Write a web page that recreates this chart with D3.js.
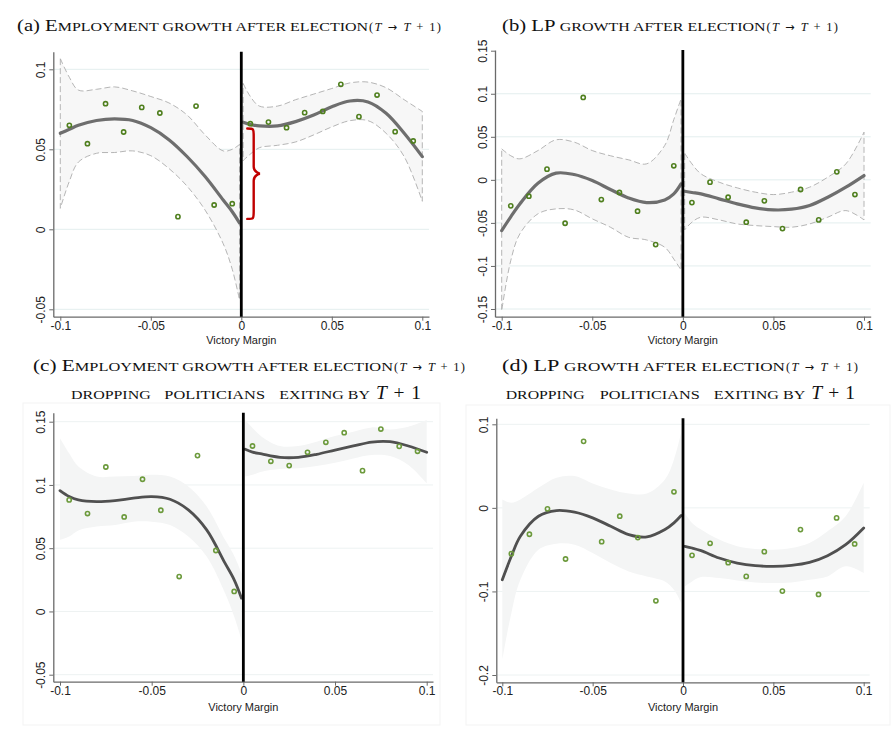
<!DOCTYPE html>
<html><head><meta charset="utf-8">
<script src="https://cdn.jsdelivr.net/npm/d3@7"></script>
<style>body{margin:0;background:#fff} svg{display:block}</style>
</head><body>
<svg id="chart" width="896" height="732"></svg>
<script>
// ---------- shared data ----------
const binsLeft  = [-0.095,-0.085,-0.075,-0.065,-0.055,-0.045,-0.035,-0.025,-0.015,-0.005];
const binsRight = [0.005,0.015,0.025,0.035,0.045,0.055,0.065,0.075,0.085,0.095];
const gridLeft  = [-0.1,-0.095,-0.09,-0.08,-0.07,-0.06,-0.05,-0.04,-0.03,-0.02,-0.01,-0.005,-0.001];
const gridRight = [0.001,0.005,0.01,0.02,0.03,0.04,0.05,0.06,0.07,0.08,0.09,0.1];
const xTicks = [-0.1,-0.05,0,0.05,0.1];
const xTickLabels = ["-0.1","-0.05","0","0.05","0.1"];
const xAxisTitle = "Victory Margin";

// ---------- panel (a) ----------
const ptsA_left  = [0.065,0.0535,0.0785,0.0608,0.0762,0.0727,0.0079,0.077,0.0152,0.016];
const ptsA_right = [0.066,0.067,0.0635,0.0729,0.0737,0.0906,0.0704,0.0839,0.061,0.0552];
const fitA_left  = [0.060,0.0625,0.065,0.068,0.069,0.068,0.0635,0.056,0.0455,0.033,0.0183,0.011,0.004];
const hiA_left   = [0.1067,0.095,0.087,0.0875,0.089,0.0865,0.083,0.079,0.0715,0.059,0.049,0.050,0.053];
const loA_left   = [0.0131,0.030,0.042,0.0475,0.048,0.049,0.046,0.038,0.027,0.012,-0.009,-0.025,-0.044];
const fitA_right = [0.0669,0.0655,0.0646,0.0646,0.0673,0.0714,0.0766,0.0802,0.0796,0.0725,0.060,0.0454];
const hiA_right  = [0.0912,0.083,0.077,0.077,0.081,0.0845,0.088,0.0915,0.092,0.0885,0.081,0.0737];
const loA_right  = [0.0429,0.047,0.051,0.0525,0.0546,0.059,0.064,0.0679,0.0679,0.060,0.0454,0.0175];
const yTicksA = [-0.05,0,0.05,0.1];
const yLabelsA = ["-0.05","0","0.05","0.1"];
const braceX = [0.0033,0.0104];
const braceY = [0.0065,0.063];

// ---------- panel (b) ----------
const ptsB_left  = [-0.0302,-0.019,0.0124,-0.0504,0.0957,-0.0229,-0.0147,-0.0364,-0.0752,0.0163];
const ptsB_right = [-0.0264,-0.0027,-0.0202,-0.0492,-0.0244,-0.0566,-0.0112,-0.0465,0.0093,-0.0171];
const fitB_left  = [-0.0589,-0.043,-0.028,-0.004,0.0078,0.0062,-0.0008,-0.0112,-0.021,-0.0264,-0.0233,-0.0163,-0.0047];
const hiB_left   = [0.036,0.028,0.0244,0.034,0.0465,0.0438,0.034,0.028,0.0233,0.0186,0.040,0.070,0.094];
const loB_left   = [-0.152,-0.0938,-0.0628,-0.0395,-0.0337,-0.0349,-0.0453,-0.055,-0.0667,-0.0698,-0.0783,-0.092,-0.1047];
const fitB_right = [-0.0132,-0.0147,-0.0163,-0.0221,-0.0279,-0.0326,-0.0349,-0.0341,-0.0298,-0.0202,-0.0085,0.005];
const hiB_right  = [0.031,0.0186,0.007,-0.0027,-0.0093,-0.0143,-0.0171,-0.0143,-0.0085,0.0031,0.0186,0.0554];
const loB_right  = [-0.0581,-0.0492,-0.0434,-0.0465,-0.0512,-0.0531,-0.0543,-0.055,-0.0512,-0.0434,-0.0357,-0.0465];
const yTicksB = [-0.15,-0.1,-0.05,0,0.05,0.1,0.15];
const yLabelsB = ["-0.15","-0.1","-0.05","0","0.05","0.1","0.15"];

// ---------- panel (c) ----------
const ptsC_left  = [0.0882,0.0774,0.1142,0.0747,0.1045,0.08,0.0276,0.1232,0.0482,0.0158];
const ptsC_right = [0.1308,0.1187,0.1153,0.1258,0.1337,0.1413,0.1113,0.1442,0.1305,0.1266];
const fitC_left  = [0.0955,0.0908,0.0882,0.0868,0.0876,0.0895,0.0908,0.0887,0.0803,0.0645,0.0382,0.025,0.0105];
const hiC_left   = [0.137,0.125,0.1145,0.1066,0.1066,0.107,0.108,0.1066,0.0987,0.0829,0.0566,0.044,0.030];
const loC_left   = [0.0566,0.0592,0.064,0.0671,0.0684,0.071,0.071,0.0684,0.0592,0.0434,0.0145,-0.004,-0.0224];
const fitC_right = [0.1282,0.126,0.1245,0.1218,0.1218,0.1242,0.1276,0.1308,0.1339,0.1342,0.1308,0.1258];
const hiC_right  = [0.1513,0.145,0.1382,0.1308,0.1308,0.1342,0.1387,0.1421,0.1455,0.1439,0.146,0.1513];
const loC_right  = [0.1066,0.108,0.1105,0.1126,0.1132,0.115,0.1176,0.121,0.1237,0.1229,0.1158,0.1013];
const yTicksC = [-0.05,0,0.05,0.1,0.15];
const yLabelsC = ["-0.05","0","0.05","0.1","0.15"];

// ---------- panel (d) ----------
const ptsD_left  = [-0.0548,-0.0316,-0.0012,-0.0612,0.0796,-0.0404,-0.01,-0.0356,-0.1112,0.0192];
const ptsD_right = [-0.0568,-0.0424,-0.0656,-0.082,-0.0524,-0.0996,-0.026,-0.1036,-0.012,-0.0432];
const fitD_left  = [-0.086,-0.058,-0.034,-0.01,-0.0032,-0.0052,-0.012,-0.022,-0.032,-0.0348,-0.026,-0.018,-0.0092];
const hiD_left   = [0.01,0.006,0.01,0.024,0.036,0.038,0.0292,0.022,0.0172,0.0172,0.034,0.058,0.09];
const loD_left   = [-0.182,-0.126,-0.086,-0.05,-0.0428,-0.044,-0.054,-0.066,-0.076,-0.082,-0.088,-0.098,-0.114];
const fitD_right = [-0.046,-0.048,-0.0512,-0.06,-0.066,-0.0692,-0.07,-0.0688,-0.0652,-0.0572,-0.044,-0.024];
const hiD_right  = [-0.006,-0.018,-0.026,-0.038,-0.046,-0.0492,-0.05,-0.048,-0.042,-0.028,-0.01,0.03];
const loD_right  = [-0.094,-0.088,-0.0828,-0.084,-0.0868,-0.0892,-0.09,-0.0892,-0.086,-0.082,-0.07,-0.078];
const yTicksD = [-0.2,-0.1,0,0.1];
const yLabelsD = ["-0.2","-0.1","0","0.1"];

// ---------- title text segments: [text, size, italic] ----------
const titleMainA = [["(a) E",17.5],["MPLOYMENT GROWTH AFTER ELECTION",13.5]];
const titleMainB = [["(b) LP ",17.5],["GROWTH AFTER ELECTION",13.5]];
const titleMainC = [["(c) E",17.5],["MPLOYMENT GROWTH AFTER ELECTION",13.5]];
const titleMainD = [["(d) LP ",17.5],["GROWTH AFTER ELECTION",13.5]];
const titleMath  = [["(",12.5],["T",12.5,1],[" → ",12.5],["T",12.5,1],[" + 1)",12.5]];
const subtitleWords = ["DROPPING","POLITICIANS","EXITING BY"];
const subtitleMath = [["T",19.5,1],[" + 1",19.5]];

const svg = d3.select("#chart");

// ---------- layout ----------
const panels = [
  {px:[60.3,422.3], yv:[0,0.1], yp:[229.3,69.3], L:53.3, B:316.7, T:51.7, R:429,
   style:"ab", yTicks:yTicksA, yLabels:yLabelsA, grid:yTicksA,
   pl:ptsA_left, pr:ptsA_right, fl:fitA_left, hl:hiA_left, ll:loA_left, fr:fitA_right, hr:hiA_right, lr:loA_right,
   main:titleMainA, mainPos:[17,368], mathPos:[369,441], ty:31, xtitleY:344, brace:true},
  {px:[501.7,864], yv:[0.15,-0.15], yp:[50.7,309], L:495, B:316.7, T:50, R:870.7,
   style:"ab", yTicks:yTicksB, yLabels:yLabelsB, grid:[-0.15,-0.1,-0.05,0,0.05,0.1],
   pl:ptsB_left, pr:ptsB_right, fl:fitB_left, hl:hiB_left, ll:loB_left, fr:fitB_right, hr:hiB_right, lr:loB_right,
   main:titleMainB, mainPos:[502,765.5], mathPos:[766.5,838], ty:31, xtitleY:344},
  {px:[60,426.7], yv:[0.15,-0.05], yp:[421.7,674.7], L:53.3, B:681.7, T:412.7, R:433,
   style:"cd", yTicks:yTicksC, yLabels:yLabelsC, grid:yTicksC,
   pl:ptsC_left, pr:ptsC_right, fl:fitC_left, hl:hiC_left, ll:loC_left, fr:fitC_right, hr:hiC_right, lr:loC_right,
   main:titleMainC, mainPos:[33,393], mathPos:[394,465], ty:371,
   subWords:[[71,150.7],[164.3,265],[279.3,370]], subMath:[376,421], ty2:398.5,
   xtitleY:711, frame:[23,403,440,725]},
  {px:[502.3,863.7], yv:[0.1,-0.2], yp:[424.3,675], L:496.3, B:682.3, T:418.3, R:869.7,
   style:"cd", yTicks:yTicksD, yLabels:yLabelsD, grid:yTicksD,
   pl:ptsD_left, pr:ptsD_right, fl:fitD_left, hl:hiD_left, ll:loD_left, fr:fitD_right, hr:hiD_right, lr:loD_right,
   main:titleMainD, mainPos:[502,785], mathPos:[786,858], ty:371,
   subWords:[[505.7,584.7],[599.7,699.7],[713.7,805.3]], subMath:[811.3,855], ty2:398.5,
   xtitleY:711, frame:[466,405,890,725]}
];

const serif = "'Liberation Serif','Times New Roman',serif";
const sans = "'Liberation Sans',Arial,sans-serif";

function fitText(segs, x0, x1, yb, adjust) {
  const t = svg.append("text").attr("x",x0).attr("y",yb)
    .attr("font-family",serif).attr("fill","#111").style("white-space","pre")
    .attr("textLength",x1-x0).attr("lengthAdjust",adjust || "spacing");
  segs.forEach(s => {
    const ts = t.append("tspan").attr("font-size",s[1]).attr("font-style",s[2]?"italic":null).text(s[0]);
    if (s[0].indexOf("→")>=0) ts.attr("font-family","'DejaVu Sans',sans-serif").attr("font-size",s[1]*0.9);
  });
  return t;
}

panels.forEach(p => {
  const g = svg.append("g");
  const x0 = d3.scaleLinear().domain([-0.1,0.1]).range(p.px);
  const y0 = d3.scaleLinear().domain(p.yv).range(p.yp);
  const x = d3.scaleLinear().domain([x0.invert(p.L), x0.invert(p.R)]).range([p.L,p.R]);
  const y = d3.scaleLinear().domain([y0.invert(p.B), y0.invert(p.T)]).range([p.B,p.T]);
  const ab = p.style === "ab";

  if (p.frame) {
    g.append("rect").attr("x",p.frame[0]).attr("y",p.frame[1])
      .attr("width",p.frame[2]-p.frame[0]).attr("height",p.frame[3]-p.frame[1])
      .attr("fill","none").attr("stroke","#f3f3f3").attr("stroke-width",1);
  }

  // gridlines
  g.selectAll(".grid").data(p.grid).join("line")
    .attr("x1",p.L).attr("x2",p.R).attr("y1",d=>y(d)).attr("y2",d=>y(d))
    .attr("stroke", ab ? "#e3eeee" : "#edf2f2").attr("stroke-width",1);

  // CI bands and fit lines
  const curve = d3.curveCatmullRom.alpha(0.5);
  const sides = [[gridLeft,p.fl,p.hl,p.ll],[gridRight,p.fr,p.hr,p.lr]];
  sides.forEach(([gx,fit,hi,lo]) => {
    const idx = d3.range(gx.length);
    const area = d3.area().x(i=>x(gx[i])).y0(i=>y(lo[i])).y1(i=>y(hi[i])).curve(curve);
    g.append("path").attr("d",area(idx))
      .attr("fill", ab ? "#f7f7f7" : "#f4f5f5")
      .attr("stroke", ab ? "#a3a3a3" : "none")
      .attr("stroke-width",0.8).attr("stroke-dasharray", ab ? "6,3" : null);
  });
  sides.forEach(([gx,fit]) => {
    const idx = d3.range(gx.length);
    const line = d3.line().x(i=>x(gx[i])).y(i=>y(fit[i])).curve(curve);
    g.append("path").attr("d",line(idx)).attr("fill","none")
      .attr("stroke", ab ? "#6e6e6e" : "#505050")
      .attr("stroke-width", ab ? 3.2 : 2.8).attr("stroke-linecap","round");
  });

  // points
  const pts = binsLeft.map((b,i)=>[b,p.pl[i]]).concat(binsRight.map((b,i)=>[b,p.pr[i]]));
  g.selectAll(".pt").data(pts).join("circle")
    .attr("cx",d=>x(d[0])).attr("cy",d=>y(d[1])).attr("r",2.1)
    .attr("fill","none").attr("stroke", ab ? "#4f7f1e" : "#6c9a3c").attr("stroke-width",1.6);

  // axes
  const xAxis = d3.axisBottom(x).tickValues(xTicks).tickFormat((d,i)=>xTickLabels[i]).tickSize(4).tickSizeOuter(0);
  const gx = g.append("g").attr("transform",`translate(0,${p.B})`).call(xAxis);
  gx.select(".domain").attr("stroke","#6a6a6a").attr("stroke-width",1.3);
  gx.selectAll(".tick line").attr("stroke","#6a6a6a").attr("stroke-width",1);
  gx.selectAll(".tick text").attr("font-family",sans).attr("font-size",12).attr("fill","#222").attr("dy","0.68em").attr("y",5);

  const yAxis = d3.axisLeft(y).tickValues(p.yTicks).tickFormat((d,i)=>p.yLabels[i]).tickSize(4).tickSizeOuter(0);
  const gy = g.append("g").attr("transform",`translate(${p.L},0)`).call(yAxis);
  gy.select(".domain").attr("stroke","#6a6a6a").attr("stroke-width",1.3);
  gy.selectAll(".tick line").attr("stroke","#6a6a6a").attr("stroke-width",1);
  gy.selectAll(".tick text").attr("font-family",sans).attr("font-size",12).attr("fill","#222")
    .attr("x",null).attr("dy",null).attr("text-anchor","middle")
    .attr("transform","translate(-8,0) rotate(-90)");

  // vertical cutoff line
  g.append("line").attr("x1",x(0)).attr("x2",x(0)).attr("y1",p.T).attr("y2",p.B)
    .attr("stroke","#000").attr("stroke-width",2.8);

  // x axis title
  g.append("text").attr("x",x(0)).attr("y",p.xtitleY).attr("text-anchor","middle")
    .attr("font-family",sans).attr("font-size",11).attr("fill","#222").text(xAxisTitle);

  // brace
  if (p.brace) {
    const bx0 = x(braceX[0]), bx1 = x(braceX[1]), yT = y(braceY[1]), yB = y(braceY[0]);
    const xm = bx0 + (bx1-bx0)*0.5, yM = (yT+yB)/2;
    const path = d3.path();
    path.moveTo(bx0,yT);
    path.bezierCurveTo(xm,yT, xm,yT, xm,yT+8);
    path.lineTo(xm,yM-7);
    path.bezierCurveTo(xm,yM-2, bx1-1,yM, bx1,yM);
    path.bezierCurveTo(bx1-1,yM, xm,yM+2, xm,yM+7);
    path.lineTo(xm,yB-8);
    path.bezierCurveTo(xm,yB, xm,yB, bx0,yB);
    g.append("path").attr("d",path.toString()).attr("fill","none")
      .attr("stroke","#c00000").attr("stroke-width",2.4).attr("stroke-linecap","round");
  }

  // titles
  fitText(p.main, p.mainPos[0], p.mainPos[1], p.ty, "spacingAndGlyphs");
  fitText(titleMath, p.mathPos[0], p.mathPos[1], p.ty);
  if (p.subWords) {
    subtitleWords.forEach((w,k) => fitText([[w,13.5]], p.subWords[k][0], p.subWords[k][1], p.ty2, "spacingAndGlyphs"));
    fitText(subtitleMath, p.subMath[0], p.subMath[1], p.ty2);
  }
});
</script>
</body></html>
